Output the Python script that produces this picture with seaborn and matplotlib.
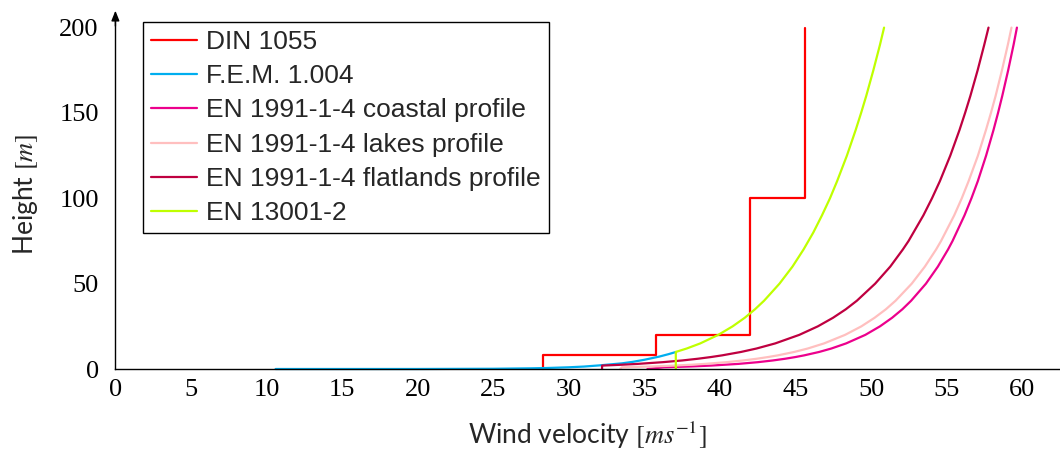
import matplotlib
matplotlib.use("Agg")
import matplotlib.pyplot as plt
import seaborn as sns

# ---- data ----
din_v = [28.3, 28.3, 35.8, 35.8, 42.0, 42.0, 45.6, 45.6]
din_h = [0, 8, 8, 20, 20, 100, 100, 200]

fem_v = [10.6, 20.0, 25.0, 27.5, 28.5, 30.0, 31.0, 32.0, 33.5, 34.2, 35.0, 36.0, 36.6, 37.1]
fem_h = [0.0, 0.01, 0.14, 0.4, 0.57, 1.0, 1.43, 2.1, 3.3, 4.15, 5.4, 7.3, 8.7, 10.0]

coastal_v = [35.2, 36.28, 38.12, 39.41, 41.23, 42.51, 43.50, 44.31, 44.99, 45.58, 46.57, 47.37,
             48.35, 49.62, 50.59, 51.39, 52.07, 52.65, 53.63, 54.42, 55.09, 55.39, 56.18,
             56.64, 57.06, 57.61, 58.10, 58.40, 58.68, 59.07, 59.43, 59.65]
coastal_h = [0, 1, 1.5, 2, 3, 4, 5, 6, 7, 8, 10, 12,
             15, 20, 25, 30, 35, 40, 50, 60, 70, 75, 90,
             100, 110, 125, 140, 150, 160, 175, 190, 200]

lakes_v = [33.4, 33.51, 35.56, 36.99, 38.11, 39.01, 40.43, 41.53, 42.43, 43.18, 43.84, 44.92,
           45.81, 46.89, 48.28, 49.36, 50.23, 50.98, 51.62, 52.69, 53.56, 54.30, 54.63, 55.50,
           56.00, 56.45, 57.07, 57.60, 57.93, 58.24, 58.66, 59.05, 59.29]
lakes_h = [0, 1, 1.5, 2, 2.5, 3, 4, 5, 6, 7, 8, 10,
           12, 15, 20, 25, 30, 35, 40, 50, 60, 70, 75, 90,
           100, 110, 125, 140, 150, 160, 175, 190, 200]

flat_v = [32.2, 32.2, 33.51, 34.57, 36.22, 37.50, 38.53, 39.40, 40.15, 41.40, 42.42, 43.66,
          45.25, 46.48, 47.48, 48.33, 49.06, 50.27, 51.27, 52.10, 52.48, 53.46, 54.03, 54.55,
          55.24, 55.85, 56.22, 56.57, 57.05, 57.49, 57.77]
flat_h = [0, 2, 2.5, 3, 4, 5, 6, 7, 8, 10, 12, 15,
          20, 25, 30, 35, 40, 50, 60, 70, 75, 90, 100, 110,
          125, 140, 150, 160, 175, 190, 200]

en13001_v = [37.08, 37.08, 37.80, 38.70, 39.89, 40.84, 41.64, 42.32, 42.92, 43.94, 44.80,
             45.53, 46.18, 46.75, 47.28, 47.75, 48.40, 48.98, 49.34, 49.68, 50.15, 50.59, 50.86]
en13001_h = [0, 10, 12, 15, 20, 25, 30, 35, 40, 50, 60,
             70, 80, 90, 100, 110, 125, 140, 150, 160, 175, 190, 200]

labels = ["DIN 1055", "F.E.M. 1.004", "EN 1991-1-4 coastal profile",
          "EN 1991-1-4 lakes profile", "EN 1991-1-4 flatlands profile", "EN 13001-2"]
colors = ["#FF0000", "#00AEEF", "#EC008C", "#FFBFBF", "#BF0040", "#BFFF00"]
x_ticks = [0, 5, 10, 15, 20, 25, 30, 35, 40, 45, 50, 55, 60]
y_ticks = [0, 50, 100, 150, 200]

sns.set_theme(style="white")
plt.rcParams["mathtext.fontset"] = "stix"

W, H = 1060, 451
fig = plt.figure(figsize=(W / 100, H / 100), dpi=100)
x0, xr = 115.4, 62.5
y0, yr = 369.0, 205.0
ax = fig.add_axes([x0 / W, (H - y0) / H, (W - x0) / W, (yr * 1.707) / H])

series = [(din_v, din_h), (fem_v, fem_h), (coastal_v, coastal_h),
          (lakes_v, lakes_h), (flat_v, flat_h), (en13001_v, en13001_h)]
for (v, h), lab, col in zip(series, labels, colors):
    sns.lineplot(x=v, y=h, sort=False, estimator=None, color=col, linewidth=1.6,
                 label=lab, ax=ax, clip_on=False)

ax.set_xlim(0, xr)
ax.set_ylim(0, yr)
for s in ["top", "right"]:
    ax.spines[s].set_visible(False)
for s in ["left", "bottom"]:
    ax.spines[s].set_color("black")
    ax.spines[s].set_linewidth(1.0)

ax.set_xticks(x_ticks)
ax.set_yticks(y_ticks)
ax.tick_params(axis="both", direction="inout", length=8, width=1.0, color="#888888",
               labelsize=19, labelcolor="black")
ax.tick_params(axis="x", pad=3)
ax.tick_params(axis="y", pad=8)
for t in ax.get_xticklabels() + ax.get_yticklabels():
    t.set_fontfamily("Liberation Serif")

# arrow on the y axis
ax.annotate("", xy=(0, 1.024), xytext=(0, 0.98), xycoords="axes fraction",
            arrowprops=dict(arrowstyle="-|>,head_length=0.5,head_width=0.2", color="black",
                            lw=1.0, shrinkA=0, shrinkB=0), annotation_clip=False)

ax.set_xlabel("Wind velocity $[ms^{-1}]$", fontsize=19, fontfamily="Lato", labelpad=14)
ax.set_ylabel("Height $[m]$", fontsize=19, fontfamily="Lato", labelpad=14)

leg = ax.legend(loc="upper left", bbox_to_anchor=(143 / W, 1 - 22 / H),
                bbox_transform=fig.transFigure, borderaxespad=0,
                frameon=True, fancybox=False, edgecolor="black", framealpha=1,
                prop={"family": "Liberation Sans", "size": 19},
                handlelength=1.75, handletextpad=0.35, labelspacing=0.39,
                borderpad=0.3)
leg.get_frame().set_linewidth(1.0)
for ln in leg.get_lines():
    ln.set_linewidth(1.6)

fig.savefig("out.png", dpi=100)
